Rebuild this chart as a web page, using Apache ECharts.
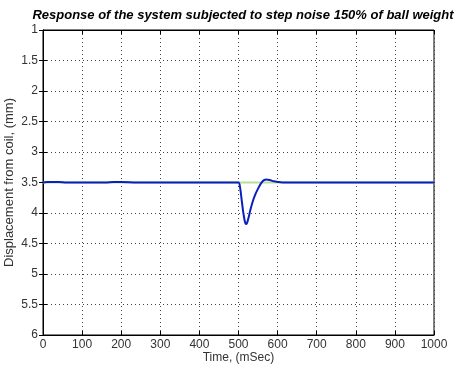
<!DOCTYPE html>
<html>
<head>
<meta charset="utf-8">
<script src="https://cdn.jsdelivr.net/npm/echarts@6/dist/echarts.min.js"></script>
<style>html,body{margin:0;padding:0;background:#fff;}#c{width:457px;height:370px;}</style>
</head>
<body>
<div id="c"></div>
<script>
var titleText = 'Response of the system subjected to step noise 150% of ball weight';
var xName = 'Time, (mSec)';
var yName = 'Displacement from coil, (mm)';
var time = [0, 10, 20, 40, 60, 80, 120, 160, 180, 200, 240, 300, 400, 480, 500, 504, 508, 512, 516, 519, 522, 526, 530, 536, 542, 550, 558, 565, 572, 580, 590, 600, 620, 650, 700, 800, 900, 1000];
var response = [3.5, 3.49, 3.49, 3.49, 3.5, 3.5, 3.5, 3.5, 3.49, 3.49, 3.5, 3.5, 3.5, 3.5, 3.5, 3.58, 3.78, 3.98, 4.13, 4.18, 4.16, 4.07, 3.96, 3.82, 3.71, 3.6, 3.51, 3.46, 3.45, 3.46, 3.48, 3.49, 3.5, 3.5, 3.5, 3.5, 3.5, 3.5];
var refTime = [0, 1000];
var reference = [3.5, 3.5];

var chart = echarts.init(document.getElementById('c'));
var font = 'Liberation Sans, Arial, sans-serif';
var labelColor = '#333';
chart.setOption({
  animation: false,
  title: {text: titleText, left: 238, textAlign: 'center', top: 4,
    textStyle: {fontFamily: font, fontSize: 13, fontWeight: 'bold', fontStyle: 'italic', color: '#000'}},
  grid: {left: 43, right: 23, top: 30, bottom: 35, outerBoundsMode: 'none', containLabel: false,
    show: true, borderColor: '#000', borderWidth: 1, backgroundColor: '#fff'},
  xAxis: [{
    type: 'value', min: 0, max: 1000, interval: 100,
    name: xName, nameLocation: 'middle', nameGap: 17, nameMoveOverlap: false,
    nameTextStyle: {fontFamily: font, fontSize: 12, color: labelColor},
    axisLine: {show: true, lineStyle: {color: '#000'}},
    axisTick: {show: true, inside: true, length: 4, lineStyle: {color: '#000'}},
    axisLabel: {fontFamily: font, fontSize: 12, color: labelColor, margin: 4,
      formatter: function (v) { return String(v); }},
    splitLine: {show: true, lineStyle: {color: '#444', type: [1, 3], width: 1}}
  }, {
    type: 'value', min: 0, max: 1000, interval: 100, position: 'top',
    axisLine: {show: true, lineStyle: {color: '#000'}},
    axisTick: {show: true, inside: true, length: 4, lineStyle: {color: '#000'}},
    axisLabel: {show: false}, splitLine: {show: false}
  }],
  yAxis: [{
    type: 'value', min: 1, max: 6, interval: 0.5, inverse: true,
    name: yName, nameLocation: 'middle', nameGap: 27, nameRotate: 90, nameMoveOverlap: false,
    nameTextStyle: {fontFamily: font, fontSize: 13, color: labelColor},
    axisLine: {show: true, lineStyle: {color: '#000'}},
    axisTick: {show: true, inside: true, length: 4, lineStyle: {color: '#000'}},
    axisLabel: {fontFamily: font, fontSize: 12, color: labelColor, margin: 5,
      formatter: function (v) { return String(v); }},
    splitLine: {show: true, lineStyle: {color: '#444', type: [1, 3], width: 1}}
  }, {
    type: 'value', min: 1, max: 6, interval: 0.5, inverse: true, position: 'right',
    axisLine: {show: true, lineStyle: {color: '#000'}},
    axisTick: {show: true, inside: true, length: 4, lineStyle: {color: '#000'}},
    axisLabel: {show: false}, splitLine: {show: false}
  }],
  series: [{
    type: 'line', data: refTime.map(function (t, i) { return [t, reference[i]]; }),
    showSymbol: false, lineStyle: {color: '#b8df9a', width: 2}, z: 2
  }, {
    type: 'line', data: time.map(function (t, i) { return [t, response[i]]; }),
    showSymbol: false, smooth: 0.3, lineStyle: {color: '#0a1fbf', width: 2}, z: 3
  }]
});
</script>
</body>
</html>
